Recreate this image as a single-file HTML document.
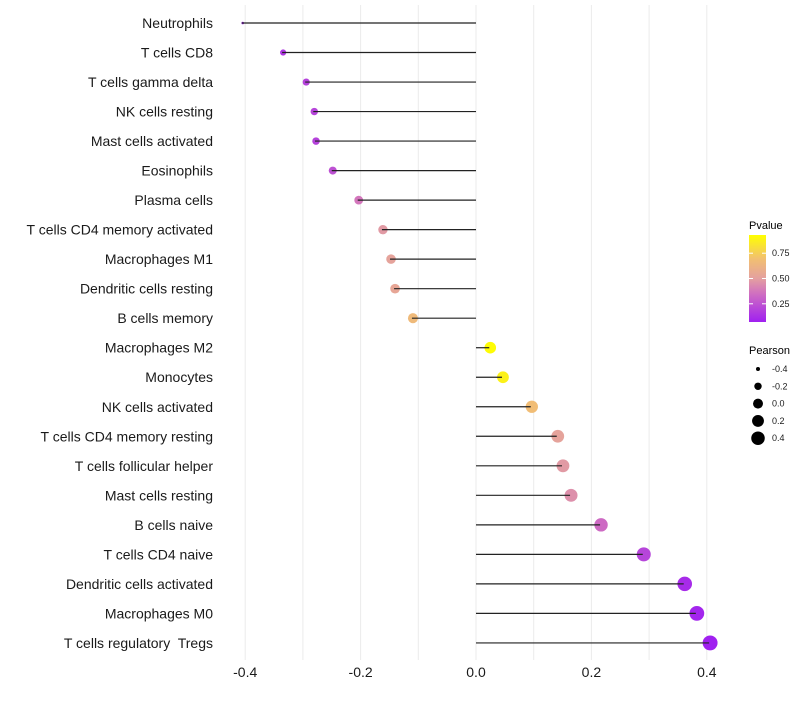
<!DOCTYPE html>
<html><head><meta charset="utf-8"><style>
body{margin:0;background:#fff;font-family:"Liberation Sans",sans-serif;}
svg text{font-family:"Liberation Sans",sans-serif;white-space:pre;}
</style></head><body>
<svg id="chart" width="800" height="700" xmlns="http://www.w3.org/2000/svg">
<g id="grid"></g>
<g id="marks"></g>
<g id="ylabels"></g>
<g id="xlabels"></g>
<g id="legend">
<defs><linearGradient id="pg" x1="0" y1="1" x2="0" y2="0">
<stop offset="0" stop-color="#a020f0"/><stop offset="0.33" stop-color="#d070c0"/><stop offset="0.5" stop-color="#e4a0a0"/><stop offset="0.73" stop-color="#f2c070"/><stop offset="1" stop-color="#ffff00"/></linearGradient></defs>
<text x="749" y="229" font-size="11">Pvalue</text>
<rect x="749" y="235" width="17" height="87" fill="url(#pg)"/>
<g id="cbticks"></g>
<text x="749" y="354" font-size="11">Pearson</text>
<g id="sizeleg"></g>
</g>
</svg>
<script>
const categories=["Neutrophils","T cells CD8","T cells gamma delta","NK cells resting","Mast cells activated","Eosinophils","Plasma cells","T cells CD4 memory activated","Macrophages M1","Dendritic cells resting","B cells memory","Macrophages M2","Monocytes","NK cells activated","T cells CD4 memory resting","T cells follicular helper","Mast cells resting","B cells naive","T cells CD4 naive","Dendritic cells activated","Macrophages M0","T cells regulatory  Tregs"];
const pearson=[-0.406,-0.336,-0.296,-0.282,-0.279,-0.250,-0.205,-0.163,-0.149,-0.142,-0.111,0.023,0.045,0.095,0.140,0.149,0.163,0.215,0.289,0.360,0.381,0.404];
const pvalues=[0.07,0.15,0.19,0.2,0.19,0.24,0.37,0.48,0.52,0.54,0.66,0.92,0.88,0.68,0.52,0.48,0.45,0.33,0.2,0.11,0.09,0.07];
const xTicks=[-0.4,-0.2,0,0.2,0.4];
const xTickLabels=["-0.4","-0.2","0.0","0.2","0.4"];
const cbTicks=[0.25,0.5,0.75];
const cbTickLabels=["0.25","0.50","0.75"];
const sizeLegend=[-0.4,-0.2,0,0.2,0.4];
const sizeLegendLabels=["-0.4","-0.2","0.0","0.2","0.4"];
const NS="http://www.w3.org/2000/svg";
const x=v=>476+v*577;
const y=i=>23+i*29.52;
const r=p=>{const t=Math.max(0,(p+0.406)/0.81);return 1.3+Math.sqrt(38*t);};
const stops=[[0.07,[160,32,240]],[0.35,[208,112,192]],[0.5,[228,160,160]],[0.7,[242,192,112]],[0.93,[255,255,0]]];
function col(p){if(p<=stops[0][0])return rgb(stops[0][1]);for(let k=1;k<stops.length;k++){if(p<=stops[k][0]){const a=stops[k-1],b=stops[k],t=(p-a[0])/(b[0]-a[0]);return rgb(a[1].map((c,j)=>c+(b[1][j]-c)*t));}}return rgb(stops[stops.length-1][1]);}
function rgb(c){return`rgb(${c.map(Math.round).join(',')})`;}
function mk(t,a,parent){const e=document.createElementNS(NS,t);for(const k in a)e.setAttribute(k,a[k]);parent.appendChild(e);return e;}
const grid=document.getElementById('grid');
for(let v=-0.4;v<=0.4001;v+=0.1){const g=mk('line',{x1:x(v),x2:x(v),y1:5,y2:660,stroke:'#ebebeb','stroke-width':1},grid);

}
const marks=document.getElementById('marks'),yl=document.getElementById('ylabels');
categories.forEach((c,i)=>{
const cy=y(i);
const dot=mk('circle',{cx:x(pearson[i])+1,cy:cy,r:r(pearson[i]),fill:col(pvalues[i])},marks);


const ln=mk('line',{x1:x(0),x2:x(pearson[i]),y1:cy,y2:cy,stroke:'#222','stroke-width':1.2},marks);


const t=mk('text',{x:213,y:cy+5,'font-size':14,'text-anchor':'end',fill:'#1a1a1a'},yl);t.textContent=c;


});
const xl=document.getElementById('xlabels');
xTicks.forEach((v,i)=>{const t=mk('text',{x:x(v),y:677,'font-size':14,'text-anchor':'middle',fill:'#1a1a1a'},xl);t.textContent=xTickLabels[i];

});
const cb=document.getElementById('cbticks');
const cy0=v=>322-(v-0.07)/(0.93-0.07)*87;
cbTicks.forEach((v,i)=>{const l=mk('line',{x1:749,x2:753,y1:cy0(v),y2:cy0(v),stroke:'#fff'},cb);
const l2=mk('line',{x1:762,x2:766,y1:cy0(v),y2:cy0(v),stroke:'#fff'},cb);
const t=mk('text',{x:772,y:cy0(v)+3,'font-size':9,fill:'#1a1a1a'},cb);t.textContent=cbTickLabels[i];

});
const sl=document.getElementById('sizeleg');
sizeLegend.forEach((v,i)=>{const yy=369+i*17.3;const c=mk('circle',{cx:758,cy:yy,r:Math.max(2,r(v)-0.7),fill:'#000'},sl);


const t=mk('text',{x:772,y:yy+3,'font-size':9,fill:'#1a1a1a'},sl);t.textContent=sizeLegendLabels[i];

});
</script>
</body></html>
